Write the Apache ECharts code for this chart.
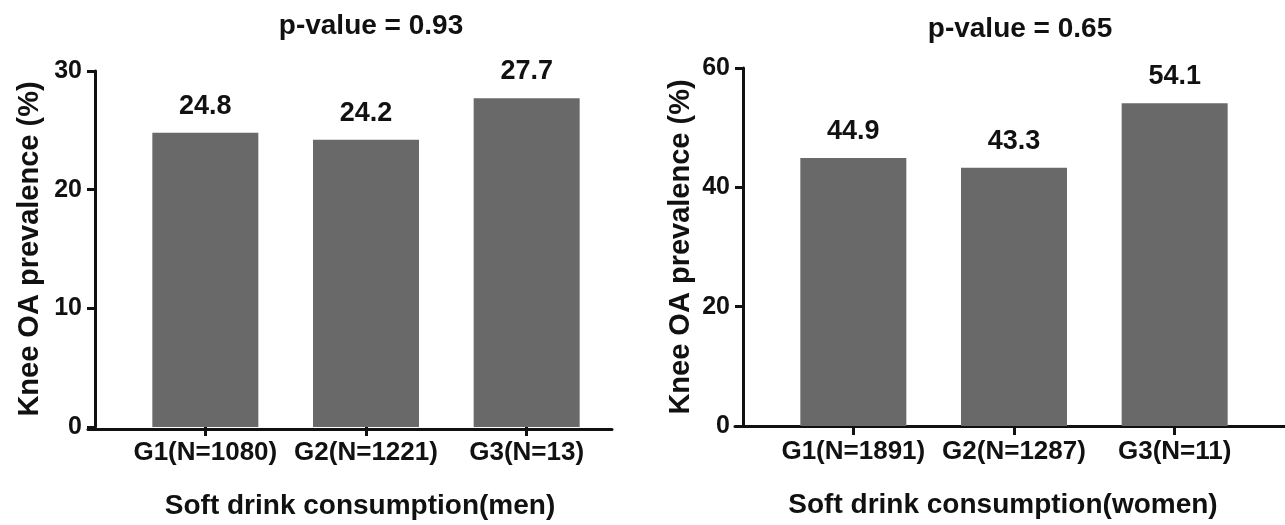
<!DOCTYPE html>
<html>
<head>
<meta charset="utf-8">
<script src="https://cdn.jsdelivr.net/npm/echarts@6/dist/echarts.min.js"></script>
<style>
  html, body { margin: 0; padding: 0; background: #ffffff; }
  #chart { width: 1285px; height: 525px; }
</style>
</head>
<body>
<div id="chart"></div>
<script>
// ---- data ----
const categoriesMen = ['G1(N=1080)', 'G2(N=1221)', 'G3(N=13)'];
const valuesMen = [24.8, 24.2, 27.7];
const categoriesWomen = ['G1(N=1891)', 'G2(N=1287)', 'G3(N=11)'];
const valuesWomen = [44.9, 43.3, 54.1];
const yTicksMen = [0, 10, 20, 30];
const yTicksWomen = [0, 20, 40, 60];
const titleMen = 'p-value = 0.93';
const titleWomen = 'p-value = 0.65';
const xNameMen = 'Soft drink consumption(men)';
const xNameWomen = 'Soft drink consumption(women)';
const yName = 'Knee OA prevalence (%)';

// ---- styles ----
const FONT = '"Liberation Sans", Arial, Helvetica, sans-serif';
const INK = '#111111';
const BAR = '#696969';
const LW = 3;

function catAxis(gi, cats, name, namePad) {
  return {
    gridIndex: gi, type: 'category', data: cats, boundaryGap: true,
    axisLine: { show: false },
    axisTick: { show: true, alignWithLabel: true, length: 9, lineStyle: { color: INK, width: LW } },
    axisLabel: { color: INK, fontFamily: FONT, fontWeight: 'bold', fontSize: 26, margin: 13, interval: 0 },
    splitLine: { show: false },
    name: name, nameLocation: 'middle', nameGap: 65,
    nameTextStyle: { color: INK, fontFamily: FONT, fontWeight: 'bold', fontSize: 28, padding: namePad }
  };
}
function lineAxis(gi) {
  return {
    gridIndex: gi, type: 'value', min: 0, max: 1, position: 'bottom',
    axisLine: { show: true, onZero: false, lineStyle: { color: INK, width: LW } },
    axisTick: { show: false }, axisLabel: { show: false }, splitLine: { show: false }
  };
}
function valAxis(gi, ticks, gap) {
  return {
    gridIndex: gi, type: 'value', min: ticks[0], max: ticks[ticks.length - 1],
    interval: ticks[1] - ticks[0], position: 'left', offset: 30,
    axisLine: { show: true, lineStyle: { color: INK, width: LW } },
    axisTick: { show: true, length: 8, lineStyle: { color: INK, width: LW } },
    axisLabel: { color: INK, fontFamily: FONT, fontWeight: 'bold', fontSize: 25, margin: 13 },
    splitLine: { show: false },
    name: yName, nameLocation: 'middle', nameGap: gap, nameRotate: 90,
    nameTextStyle: { color: INK, fontFamily: FONT, fontWeight: 'bold', fontSize: 29 }
  };
}
function hiddenY(gi) {
  return { gridIndex: gi, type: 'value', min: 0, max: 1, show: false };
}
function barSeries(xi, yi, vals) {
  return {
    type: 'bar', xAxisIndex: xi, yAxisIndex: yi, data: vals, barWidth: 106,
    itemStyle: { color: BAR },
    label: { show: true, position: 'top', distance: 13, color: INK,
             fontFamily: FONT, fontWeight: 'bold', fontSize: 27 },
    silent: true
  };
}

const option = {
  animation: false,
  backgroundColor: '#ffffff',
  title: [
    { text: titleMen, left: 366, top: 7, textAlign: 'center',
      textStyle: { color: INK, fontFamily: FONT, fontWeight: 'bold', fontSize: 28 } },
    { text: titleWomen, left: 1015, top: 10, textAlign: 'center',
      textStyle: { color: INK, fontFamily: FONT, fontWeight: 'bold', fontSize: 28 } }
  ],
  grid: [
    { left: 125, top: 71, width: 482, height: 358 },
    { left: 88, top: 71, width: 524, height: 358 },
    { left: 773, top: 68, width: 482, height: 358 },
    { left: 735, top: 68, width: 550, height: 358 }
  ],
  xAxis: [
    catAxis(0, categoriesMen, xNameMen, [0, 12, 0, 0]),
    lineAxis(1),
    catAxis(2, categoriesWomen, xNameWomen, [0, 22, 0, 0]),
    lineAxis(3)
  ],
  yAxis: [
    valAxis(0, yTicksMen, 51),
    hiddenY(1),
    valAxis(2, yTicksWomen, 48),
    hiddenY(3)
  ],
  series: [
    barSeries(0, 0, valuesMen),
    barSeries(2, 2, valuesWomen)
  ]
};

const chart = echarts.init(document.getElementById('chart'), null, { renderer: 'canvas' });
chart.setOption(option);
</script>
</body>
</html>
